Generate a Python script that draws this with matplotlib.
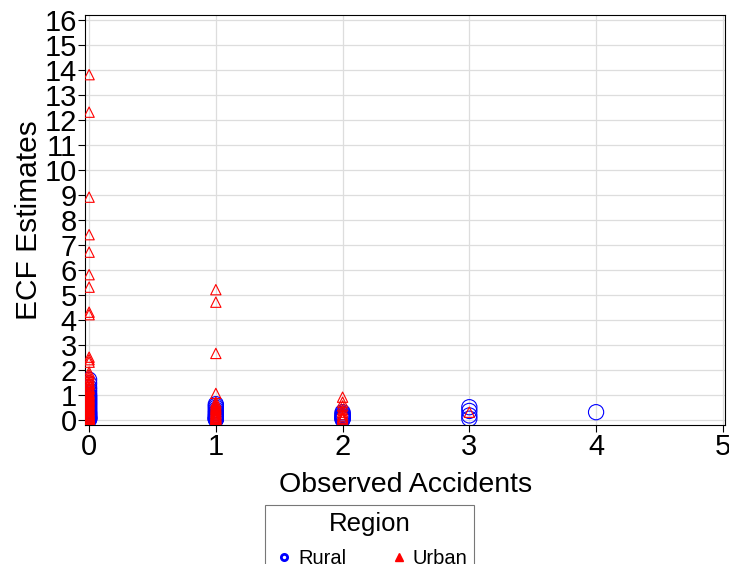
import matplotlib
matplotlib.use("Agg")
import matplotlib.pyplot as plt
from matplotlib.lines import Line2D

plt.rcParams["font.family"] = ["Liberation Sans", "DejaVu Sans"]

# observed accidents (x) and ECF estimates (y) per region
rural_x = [0] * 32 + [1] * 14 + [2] * 8 + [3] * 4 + [4]
rural_y = [1.6, 1.45, 1.3, 1.2, 1.1, 1.0, 0.95, 0.9, 0.85, 0.8, 0.75, 0.7, 0.65,
           0.6, 0.55, 0.5, 0.45, 0.4, 0.35, 0.3, 0.27, 0.24, 0.2, 0.17, 0.14,
           0.11, 0.09, 0.07, 0.05, 0.03, 0.02, 0.01,
           0.62, 0.55, 0.48, 0.4, 0.33, 0.27, 0.21, 0.16, 0.12, 0.08, 0.05,
           0.03, 0.02, 0.01,
           0.3, 0.24, 0.19, 0.14, 0.1, 0.06, 0.03, 0.01,
           0.5, 0.35, 0.17, 0.04,
           0.3]

urban_x = [0] * 52 + [1] * 22 + [2] * 9 + [3]
urban_y = [13.8, 12.3, 8.9, 7.4, 6.7, 5.8, 5.3, 4.3, 4.2, 2.5, 2.4, 2.3,
           1.9, 1.8, 1.7, 1.6, 1.5, 1.45, 1.4, 1.3, 1.25, 1.2, 1.1, 1.05, 1.0,
           0.95, 0.9, 0.85, 0.8, 0.75, 0.7, 0.65, 0.6, 0.55, 0.5, 0.45, 0.4,
           0.35, 0.3, 0.27, 0.24, 0.21, 0.18, 0.15, 0.12, 0.1, 0.08, 0.06,
           0.04, 0.03, 0.02, 0.01,
           5.2, 4.7, 2.65, 1.05, 0.7, 0.62, 0.55, 0.5, 0.45, 0.4, 0.35, 0.3,
           0.26, 0.22, 0.18, 0.15, 0.12, 0.09, 0.06, 0.04, 0.02, 0.01,
           0.9, 0.7, 0.55, 0.4, 0.3, 0.2, 0.12, 0.06, 0.02,
           0.3]

fig = plt.figure(figsize=(7.29, 5.64), dpi=100)
ax = fig.add_axes([0.117, 0.247, 0.878, 0.727])

ax.scatter(rural_x, rural_y, s=120, marker="o", facecolors="none",
           edgecolors="blue", linewidths=0.8, zorder=3)
ax.scatter(urban_x, urban_y, s=55, marker="^", facecolors="none",
           edgecolors="red", linewidths=0.8, zorder=4)

ax.set_xlim(-0.03, 5.02)
ax.set_ylim(-0.2, 16.2)
ax.set_xticks(range(0, 6))
ax.set_yticks(range(0, 17))
ax.tick_params(labelsize=21, length=5, width=0.8, pad=1)
ax.grid(True, color="#dddddd", lw=0.9)
ax.set_axisbelow(True)
for s in ax.spines.values():
    s.set_linewidth(0.8)

ax.set_xlabel("Observed Accidents", fontsize=20.5, labelpad=8)
ax.set_ylabel("ECF Estimates", fontsize=21.5, labelpad=1)

handles = [
    Line2D([], [], marker="o", ls="none", color="blue", markersize=4.5,
           markerfacecolor="none", markeredgewidth=2),
    Line2D([], [], marker="^", ls="none", color="red", markersize=6),
]
leg = fig.legend(handles, ["Rural", "Urban"], title="Region", ncol=2,
                 loc="upper center", bbox_to_anchor=(0.507, 0.104),
                 borderaxespad=0, fontsize=14.5, title_fontsize=18.5,
                 frameon=True, fancybox=False, edgecolor="#555555",
                 handletextpad=0.1, columnspacing=2.0, borderpad=0.35,
                 handlelength=1.2, labelspacing=0.65)
leg.get_frame().set_linewidth(0.8)

fig.savefig("out.png", dpi=100)
